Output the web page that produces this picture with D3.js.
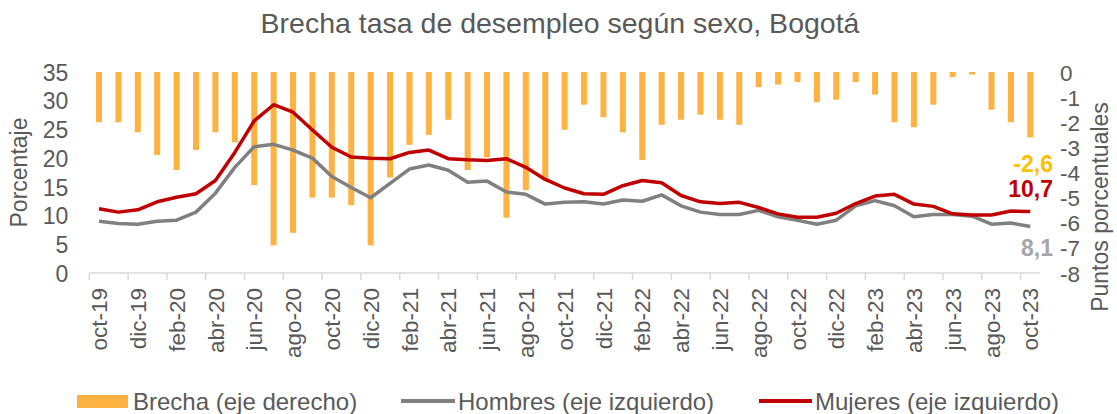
<!DOCTYPE html>
<html>
<head>
<meta charset="utf-8">
<script src="https://cdn.jsdelivr.net/npm/d3@7"></script>
<style>
  body { margin: 0; background: #fff; }
  svg text { font-family: "Liberation Sans", Arial, sans-serif; fill: #595959; }
</style>
</head>
<body>
<div id="chart"></div>
<script>
// months, oct-19 .. oct-23
const meses = ["oct-19","nov-19","dic-19","ene-20","feb-20","mar-20","abr-20","may-20","jun-20","jul-20","ago-20","sep-20",
  "oct-20","nov-20","dic-20","ene-21","feb-21","mar-21","abr-21","may-21","jun-21","jul-21","ago-21","sep-21",
  "oct-21","nov-21","dic-21","ene-22","feb-22","mar-22","abr-22","may-22","jun-22","jul-22","ago-22","sep-22",
  "oct-22","nov-22","dic-22","ene-23","feb-23","mar-23","abr-23","may-23","jun-23","jul-23","ago-23","sep-23","oct-23"];

// brecha (puntos porcentuales, eje derecho)
const brecha = [-2.0,-2.0,-2.4,-3.3,-3.9,-3.1,-2.4,-2.8,-4.5,-6.9,-6.4,-5.0,-5.0,-5.3,-6.9,-4.2,-2.9,-2.5,-1.9,-3.9,
  -3.4,-5.8,-4.7,-4.3,-2.3,-1.3,-1.8,-2.4,-3.5,-2.1,-1.9,-1.7,-1.9,-2.1,-0.6,-0.5,-0.4,-1.2,-1.1,-0.4,
  -0.9,-2.0,-2.2,-1.3,-0.2,-0.1,-1.5,-2.0,-2.6];

// tasa de desempleo (%), eje izquierdo
const hombres = [9.0,8.6,8.5,9.0,9.2,10.6,13.9,18.4,22.0,22.4,21.4,20.0,16.8,14.9,13.1,15.6,18.1,18.8,17.9,15.8,
  16.0,14.1,13.7,12.0,12.3,12.4,12.0,12.7,12.5,13.6,11.7,10.6,10.2,10.2,10.9,9.8,9.2,8.5,9.2,11.7,
  12.6,11.7,9.8,10.2,10.2,9.9,8.5,8.7,8.1];
const mujeres = [11.2,10.6,11.0,12.4,13.2,13.8,16.1,21.0,26.5,29.3,28.0,24.9,21.9,20.2,20.0,19.9,21.0,21.4,19.9,19.7,
  19.6,19.9,18.4,16.3,14.8,13.8,13.7,15.2,16.1,15.7,13.5,12.4,12.1,12.3,11.4,10.3,9.7,9.7,10.4,12.1,
  13.4,13.7,12.0,11.6,10.3,10.1,10.1,10.8,10.7];

const leftTicks = [0,5,10,15,20,25,30,35];
const rightTicks = [0,-1,-2,-3,-4,-5,-6,-7,-8];

const width = 1117, height = 414;
const plot = { left: 89.3, right: 1040, top: 72, bottom: 273 };

const colBar = "#FDB241", colH = "#808080", colM = "#C00000";

const svg = d3.select("#chart").append("svg")
  .attr("width", width).attr("height", height);

// scales
const pad = 1 - 6 / 19.4;
const x = d3.scaleBand().domain(meses).range([plot.left, plot.right])
  .paddingInner(pad).paddingOuter(pad / 2);
const cx = d => x(d) + x.bandwidth() / 2;
const yL = d3.scaleLinear().domain([0, 35]).range([plot.bottom, plot.top]);
const yR = d3.scaleLinear().domain([-8, 0]).range([plot.bottom, plot.top]);

// title
svg.append("text")
  .attr("x", 560).attr("y", 32.5)
  .attr("text-anchor", "middle")
  .style("font-size", "28.5px")
  .text("Brecha tasa de desempleo según sexo, Bogotá");

// bars (right axis)
svg.selectAll(".bar")
  .data(meses)
  .join("rect")
  .attr("class", "bar")
  .attr("x", d => x(d))
  .attr("width", x.bandwidth())
  .attr("y", yR(0))
  .attr("height", (d, i) => yR(brecha[i]) - yR(0))
  .attr("fill", colBar);

// x axis line + ticks every 2 months (at band boundaries)
const step = x.step();
svg.append("line")
  .attr("x1", plot.left).attr("x2", plot.right)
  .attr("y1", plot.bottom).attr("y2", plot.bottom)
  .attr("stroke", "#D9D9D9").attr("stroke-width", 1.5);
const tickMonths = meses.filter((d, i) => i % 2 === 0);
svg.selectAll(".xtick")
  .data(tickMonths)
  .join("line")
  .attr("class", "xtick")
  .attr("x1", d => cx(d) - step / 2).attr("x2", d => cx(d) - step / 2)
  .attr("y1", plot.bottom).attr("y2", plot.bottom + 7)
  .attr("stroke", "#D9D9D9").attr("stroke-width", 1.5);

// x labels
const xAxis = svg.append("g")
  .attr("transform", `translate(0,${plot.bottom})`)
  .call(d3.axisBottom(x).tickValues(tickMonths).tickSize(0));
xAxis.select(".domain").remove();
xAxis.selectAll("text")
  .attr("transform", "rotate(-90)")
  .attr("x", -15).attr("y", 0).attr("dy", "0.36em")
  .attr("text-anchor", "end")
  .style("font-size", "22.5px")
  .attr("fill", "#595959");

// left axis
const gL = svg.append("g")
  .attr("transform", `translate(${plot.left},0)`)
  .call(d3.axisLeft(yL).tickValues(leftTicks).tickSize(0).tickPadding(21));
gL.select(".domain").remove();
gL.selectAll("text").style("font-size", "23px").attr("fill", "#595959").attr("dy", "0.36em");

// right axis
const gR = svg.append("g")
  .attr("transform", `translate(${plot.right},0)`)
  .call(d3.axisRight(yR).tickValues(rightTicks).tickSize(0).tickPadding(20));
gR.select(".domain").remove();
gR.selectAll("text").style("font-size", "22.5px").attr("fill", "#595959").attr("dy", "0.36em")
  .text(d => d < 0 ? "-" + Math.abs(d) : d);

// axis titles
svg.append("text")
  .attr("transform", "translate(27,172.5) rotate(-90)")
  .attr("text-anchor", "middle")
  .style("font-size", "23px")
  .text("Porcentaje");
svg.append("text")
  .attr("transform", "translate(1108,207) rotate(-90)")
  .attr("text-anchor", "middle")
  .style("font-size", "23px")
  .text("Puntos porcentuales");

// lines (left axis)
const line = d3.line().x((d, i) => cx(meses[i])).y(d => yL(d));
svg.append("path").datum(hombres)
  .attr("d", line).attr("fill", "none")
  .attr("stroke", colH).attr("stroke-width", 3.5).attr("stroke-linejoin", "round");
svg.append("path").datum(mujeres)
  .attr("d", line).attr("fill", "none")
  .attr("stroke", colM).attr("stroke-width", 3.5).attr("stroke-linejoin", "round");

// last-value labels (plain hyphen, decimal comma)
const last = meses.length - 1;
const fmt = v => (v < 0 ? "-" : "") + Math.abs(v).toFixed(1).replace(".", ",");
svg.append("text").attr("x", 1053).attr("y", 171.5).attr("text-anchor", "end")
  .style("font-size", "23px").style("font-weight", "bold").style("fill", "#FFC000")
  .text(fmt(brecha[last]));
svg.append("text").attr("x", 1053).attr("y", 197).attr("text-anchor", "end")
  .style("font-size", "23px").style("font-weight", "bold").style("fill", colM)
  .text(fmt(mujeres[last]));
svg.append("text").attr("x", 1053).attr("y", 256).attr("text-anchor", "end")
  .style("font-size", "23px").style("font-weight", "bold").style("fill", "#A6A6A6")
  .text(fmt(hombres[last]));

// legend
const legY = 401;
svg.append("rect").attr("x", 77).attr("y", legY - 6).attr("width", 51).attr("height", 13).attr("fill", colBar);
svg.append("text").attr("x", 133).attr("y", legY + 8.5).style("font-size", "24px").text("Brecha (eje derecho)");
svg.append("line").attr("x1", 401).attr("x2", 455).attr("y1", legY).attr("y2", legY)
  .attr("stroke", colH).attr("stroke-width", 4);
svg.append("text").attr("x", 458).attr("y", legY + 8.5).style("font-size", "24px").text("Hombres (eje izquierdo)");
svg.append("line").attr("x1", 759).attr("x2", 812).attr("y1", legY).attr("y2", legY)
  .attr("stroke", colM).attr("stroke-width", 4);
svg.append("text").attr("x", 815).attr("y", legY + 8.5).style("font-size", "24px").text("Mujeres (eje izquierdo)");
</script>
</body>
</html>
